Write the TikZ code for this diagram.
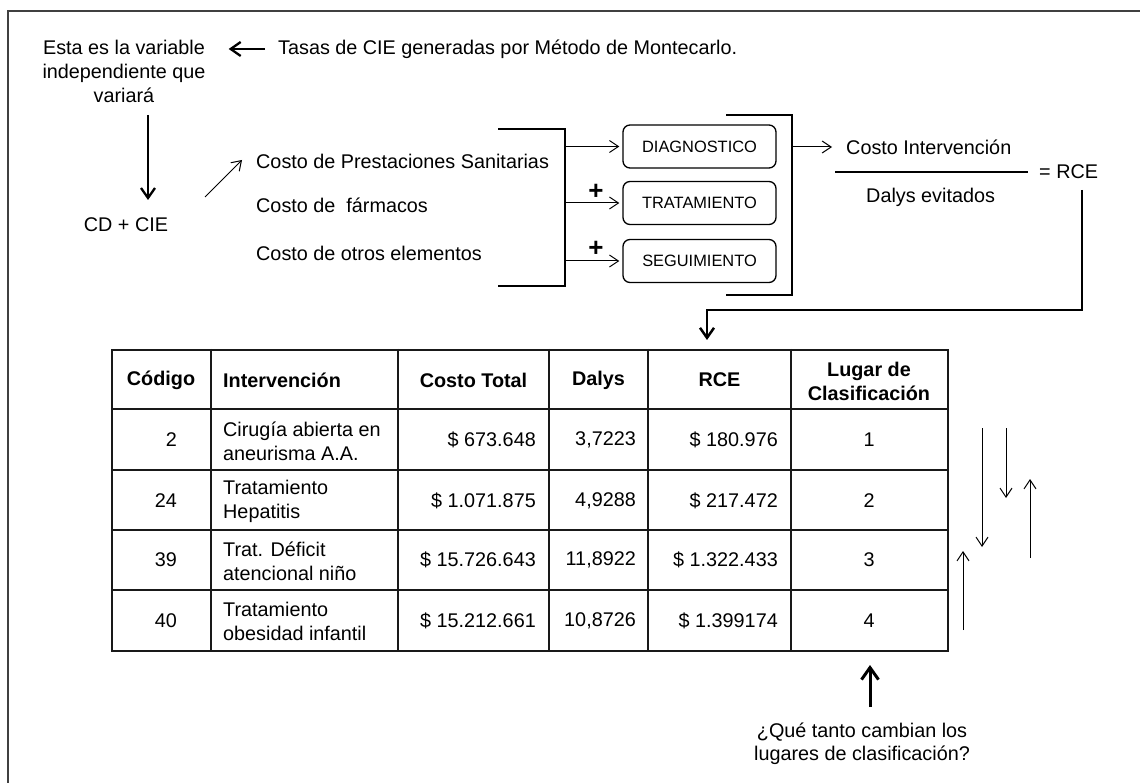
\documentclass[tikz,border=0pt]{standalone}
\usepackage{fontspec}
\setmainfont{Liberation Sans}
\usetikzlibrary{arrows.meta}
\newcommand{\mainfs}{\fontsize{19.8}{24}\selectfont}
\newcommand{\qfs}{\fontsize{19.8}{23}\selectfont}
\newcommand{\boxfs}{\fontsize{16.4}{20}\selectfont}
\newcommand{\plusfs}{\fontsize{26}{30}\selectfont\bfseries}
\begin{document}
\begin{tikzpicture}[x=1pt,y=-1pt,
  txt/.style={inner sep=0pt, font=\mainfs, text=black},
  ml/.style={txt, align=center},
  hd/.style={txt, font=\mainfs\bfseries},
  thinarr/.style={line width=1pt, -{Straight Barb[length=9pt,width=12pt]}},
  thickarr/.style={line width=2.3pt, -{Straight Barb[length=10pt,width=14pt]}},
  stepbox/.style={draw, line width=1.3pt, rounded corners=7pt, minimum width=153pt, minimum height=43pt, inner sep=0pt, font=\boxfs},
  brk/.style={line width=2.5pt},
  grid/.style={line width=1.8pt, draw=black!90},
]
\useasboundingbox (0,0) rectangle (1140,783);
% outer frame
\draw[line width=2pt, black!75] (8,783) -- (8,11) -- (1140,11);

% top left
\node[ml] (var) at (124,71) {Esta es la variable\\independiente que\\variará};
\node[txt, anchor=west] (tasas) at (278,49) {Tasas de CIE generadas por Método de Montecarlo.};
\draw[thickarr, shorten <=13pt, shorten >=23pt] (tasas.west) -- (var.east |- tasas.west);

\node[txt] (cd) at (126,225) {CD + CIE};
\coordinate (dtop) at (148,115);
\coordinate (dbot) at (148,200);
\draw[thickarr] (dtop) -- (dbot);

\coordinate (s1) at (205,197);
\coordinate (s2) at (242,160);
\draw[thinarr] (s1) -- (s2);

% cost items
\node[txt, anchor=west] (c1) at (256,161) {Costo de Prestaciones Sanitarias};
\node[txt, anchor=west] (c2) at (256,205) {Costo de\ \ fármacos};
\node[txt, anchor=west] (c3) at (256,253) {Costo de otros elementos};

% left bracket
\draw[brk] (498,129) -- (565,129) -- (565,286) -- (498,286);
\coordinate (lbx) at (565,0);

% boxes
\node[stepbox] (dg) at (699.5,146.5) {DIAGNOSTICO};
\node[stepbox] (tr) at (699.5,203) {TRATAMIENTO};
\node[stepbox] (sg) at (699.5,261) {SEGUIMIENTO};
\draw[thinarr, shorten >=3pt] (lbx |- dg.west) -- (dg.west);
\draw[thinarr, shorten >=3pt] (lbx |- tr.west) -- (tr.west);
\draw[thinarr, shorten >=3pt] (lbx |- sg.west) -- (sg.west);
\node[txt, font=\plusfs] (p1) at (596,192) {+};
\node[txt, font=\plusfs] (p2) at (596,249) {+};

% right bracket
\draw[brk] (726,115) -- (792,115) -- (792,295) -- (726,295);
\coordinate (rbx) at (792,0);

% fraction
\node[txt, anchor=west] (ci) at (846,147) {Costo Intervención};
\draw[thinarr, shorten >=14pt] (rbx |- ci.west) -- (ci.west);
\draw[line width=1.3pt] (835,172) -- (1028,172);
\node[txt, anchor=west] (rce) at (1039,172) {= RCE};
\node[txt, anchor=west] (dal) at (866,197) {Dalys evitados};

% connector to table
\coordinate (k1) at (1082,190);
\coordinate (k2) at (707,310);
\coordinate (k3) at (707,340);
\draw[line width=2.5pt, -{Straight Barb[length=10pt,width=14pt]}] (k1) |- (k2) -- (k3);

% table
\node[draw, grid, minimum width=836pt, minimum height=301pt, inner sep=0pt, anchor=north west] (tbl) at (111,349) {};
\foreach \x in {211,398,549,648,791} \draw[grid] (\x,349) -- (\x,650);
\foreach \y in {409,470,530,590} \draw[grid] (111,\y) -- (947,\y);

\node[hd] (h1) at (161,380) {Código};
\node[hd, anchor=west] (h2) at (223,380) {Intervención};
\node[hd] (h3) at (473.5,380) {Costo Total};
\node[hd] (h4) at (598.5,380) {Dalys};
\node[hd] (h5) at (719.5,380) {RCE};
\node[hd, align=center] (h6) at (869,381) {Lugar de\\Clasificación};

% row 1
\node[txt, anchor=east] (r1a) at (177,440) {2};
\node[txt, anchor=west, align=left] (r1b) at (223,441) {Cirugía abierta en\\aneurisma A.A.};
\node[txt, anchor=east] (r1c) at (536,440) {\$ 673.648};
\node[txt, anchor=east] (r1d) at (636,440) {3,7223};
\node[txt, anchor=east] (r1e) at (778,440) {\$ 180.976};
\node[txt] (r1f) at (869,440) {1};
% row 2
\node[txt, anchor=east] (r2a) at (177,501) {24};
\node[txt, anchor=west, align=left] (r2b) at (223,501) {Tratamiento\\Hepatitis};
\node[txt, anchor=east] (r2c) at (536,501) {\$ 1.071.875};
\node[txt, anchor=east] (r2d) at (636,501) {4,9288};
\node[txt, anchor=east] (r2e) at (778,501) {\$ 217.472};
\node[txt] (r2f) at (869,501) {2};
% row 3
\node[txt, anchor=east] (r3a) at (177,560) {39};
\node[txt, anchor=west, align=left] (r3b) at (223,561) {Trat. Déficit\\atencional niño};
\node[txt, anchor=east] (r3c) at (536,560) {\$ 15.726.643};
\node[txt, anchor=east] (r3d) at (636,560) {11,8922};
\node[txt, anchor=east] (r3e) at (778,560) {\$ 1.322.433};
\node[txt] (r3f) at (869,560) {3};
% row 4
\node[txt, anchor=east] (r4a) at (177,621) {40};
\node[txt, anchor=west, align=left] (r4b) at (223,621) {Tratamiento\\obesidad infantil};
\node[txt, anchor=east] (r4c) at (536,621) {\$ 15.212.661};
\node[txt, anchor=east] (r4d) at (636,621) {10,8726};
\node[txt, anchor=east] (r4e) at (778,621) {\$ 1.399174};
\node[txt] (r4f) at (869,621) {4};

% right side arrows
\coordinate (ra1) at (982,428); \coordinate (ra2) at (982,547);
\coordinate (rb1) at (1006,428); \coordinate (rb2) at (1006,498);
\coordinate (rc1) at (1030,558); \coordinate (rc2) at (1030,479);
\coordinate (rd1) at (963,630); \coordinate (rd2) at (963,551);
\draw[thinarr] (ra1) -- (ra2);
\draw[thinarr] (rb1) -- (rb2);
\draw[thinarr] (rc1) -- (rc2);
\draw[thinarr] (rd1) -- (rd2);

% bottom question
\node[txt, font=\qfs, align=center] (q) at (862,744) {¿Qué tanto cambian los\\lugares de clasificación?};
\coordinate (qa1) at (870,707);
\coordinate (qa2) at (870,665);
\draw[line width=3pt, -{Straight Barb[length=12pt,width=17pt]}] (qa1) -- (qa2);
\end{tikzpicture}
\end{document}
